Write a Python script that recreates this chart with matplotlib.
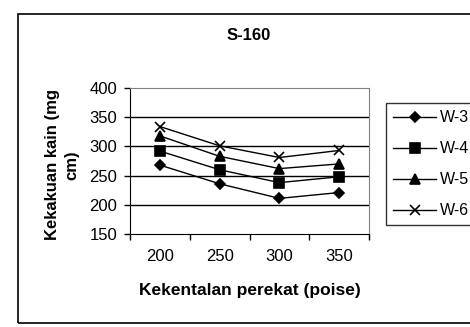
import matplotlib
matplotlib.use("Agg")
import matplotlib.pyplot as plt
from matplotlib.patches import Rectangle

plt.rcParams['font.family'] = ['Liberation Sans', 'DejaVu Sans']

viscosity = ['200', '250', '300', '350']
w3 = [268, 236, 211, 221]
w4 = [292, 260, 238, 248]
w5 = [318, 283, 262, 270]
w6 = [334, 301, 281, 293]

series = [('W-3', w3, 'D', 5.5), ('W-4', w4, 's', 6.5),
          ('W-5', w5, '^', 7.5), ('W-6', w6, 'x', 7.5)]

fig = plt.figure(figsize=(4.7, 3.27), dpi=100)
ax = fig.add_axes([130 / 470, 1 - 234 / 327, 239 / 470, 146 / 327])

x = list(range(len(viscosity)))
for name, vals, mk, ms in series:
    ax.plot(x, vals, color='black', lw=1, marker=mk, ms=ms,
            mew=1.2, mfc='black', mec='black', label=name)

ax.set_xlim(-0.5, len(viscosity) - 0.5)
ax.set_ylim(150, 400)
ax.set_yticks([150, 200, 250, 300, 350, 400])
ax.set_xticks(x)
ax.set_xticklabels(viscosity)
ax.set_xticks([i - 0.5 for i in range(len(viscosity) + 1)], minor=True)
ax.tick_params(axis='x', which='major', length=0, pad=11, labelsize=12)
ax.tick_params(axis='x', which='minor', length=4, width=1, direction='out')
ax.tick_params(axis='y', length=4, width=1, pad=5, labelsize=12)

for yv in [200, 250, 300, 350]:
    ax.axhline(yv, color='black', lw=1, zorder=0)

ax.spines['left'].set_color('black')
ax.spines['bottom'].set_color('black')
ax.spines['top'].set_color('#808080')
ax.spines['right'].set_color('#808080')

fig.text(249 / 470, 1 - 36 / 327, 'S-160', ha='center', va='center',
         fontsize=12, fontweight='bold')
fig.text(250 / 470, 1 - 290 / 327, 'Kekentalan perekat (poise)',
         ha='center', va='center', fontsize=12.5, fontweight='bold')
fig.text(62 / 470, 1 - 165 / 327, 'Kekakuan kain (mg\ncm)', ha='center',
         va='center', rotation=90, fontsize=12, fontweight='bold',
         multialignment='center', linespacing=1.35)

leg = fig.legend(loc='upper left', bbox_to_anchor=(386 / 470, 1 - 103 / 327),
                 frameon=True, fancybox=False, edgecolor='black',
                 fontsize=11.5, handlelength=2.7, handletextpad=0.2,
                 labelspacing=1.0, borderpad=0.45, borderaxespad=0)
leg.get_frame().set_linewidth(1)

# outer chart border, running off the right edge
fig.patches.append(Rectangle((18 / 470, 1 - 323 / 327), 1.2, 309 / 327,
                             transform=fig.transFigure, fill=False,
                             edgecolor='black', lw=1.2))

fig.savefig('out.png', dpi=100)
